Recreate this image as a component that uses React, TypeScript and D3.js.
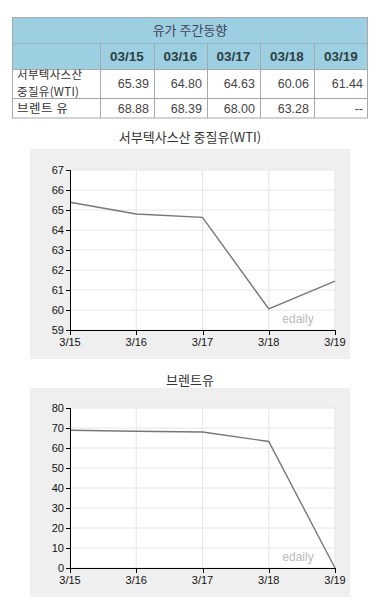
import React from "react";
import * as d3 from "d3";

const dates = ["03/15", "03/16", "03/17", "03/18", "03/19"];
const xLabels = ["3/15", "3/16", "3/17", "3/18", "3/19"];
const wtiValues = [65.39, 64.8, 64.63, 60.06, 61.44];
const brentValues: (number | null)[] = [68.88, 68.39, 68.0, 63.28, null];
const brentChartValues = [68.88, 68.39, 68.0, 63.28, 0];
const wtiTicks = [59, 60, 61, 62, 63, 64, 65, 66, 67];
const brentTicks = [0, 10, 20, 30, 40, 50, 60, 70, 80];

const FONT = "'Liberation Sans', Arial, sans-serif";
const KFONT = "'Noto Sans CJK KR', 'Noto Sans', sans-serif";

function LineChart({ title, titleY, bgTop, bgBottom, plotTop, plotBottom, domain, ticks, values }: any) {
  const x = d3.scalePoint<string>().domain(xLabels).range([70, 335]);
  const y = d3.scaleLinear().domain(domain).range([plotBottom, plotTop]);
  const line = d3
    .line<number>()
    .x((_, i) => x(xLabels[i]) as number)
    .y((d) => y(d));
  return (
    <g>
      <text x={190} y={titleY} textAnchor="middle" fontFamily={KFONT} fontSize={13} fill="#333">
        {title}
      </text>
      <rect x={30} y={bgTop} width={320} height={bgBottom - bgTop} fill="#efefef" />
      <rect x={70} y={plotTop} width={265} height={plotBottom - plotTop} fill="#ffffff" />
      {ticks.map((t: number) => (
        <line key={"g" + t} x1={70} x2={335} y1={y(t)} y2={y(t)} stroke="#e6e6e6" />
      ))}
      {xLabels.map((l) => (
        <line key={"v" + l} x1={x(l)} x2={x(l)} y1={plotTop} y2={plotBottom} stroke="#e6e6e6" />
      ))}
      <text x={298} y={plotBottom - 7} textAnchor="middle" fontFamily={FONT} fontSize={12} fill="#bbbbbb">
        edaily
      </text>
      <path d={line(values) || ""} fill="none" stroke="#777" strokeWidth={1.4} />
      <line x1={70.5} x2={70.5} y1={plotTop} y2={plotBottom} stroke="#000" />
      <line x1={70} x2={335} y1={plotBottom + 0.5} y2={plotBottom + 0.5} stroke="#000" />
      {ticks.map((t: number) => (
        <g key={"t" + t}>
          <line x1={66} x2={70} y1={Math.round(y(t)) + 0.5} y2={Math.round(y(t)) + 0.5} stroke="#000" />
          <text x={64} y={y(t) + 4} textAnchor="end" fontFamily={FONT} fontSize={11} fill="#111">
            {t}
          </text>
        </g>
      ))}
      {xLabels.map((l) => (
        <g key={"x" + l}>
          <line x1={Math.round(x(l) as number) + 0.5} x2={Math.round(x(l) as number) + 0.5} y1={plotBottom} y2={plotBottom + 5} stroke="#000" />
          <text x={x(l)} y={plotBottom + 16} textAnchor="middle" fontFamily={FONT} fontSize={11} fill="#111">
            {l}
          </text>
        </g>
      ))}
    </g>
  );
}

export default function App() {
  const colEdges = [12, 100, 154, 207, 260, 314, 368];
  const border = "#a8a8a8";
  return (
    <svg width={380} height={616} style={{ position: "absolute", left: 0, top: 0 }}>
      <rect width={380} height={616} fill="#fff" />
      {/* table */}
      <rect x={12} y={17} width={356} height={52} fill="#9dcfe3" />
      <line x1={12} x2={368} y1={43.5} y2={43.5} stroke="#8fb5c5" />
      {colEdges.slice(1, -1).map((cx) => (
        <line key={cx} x1={cx + 0.5} x2={cx + 0.5} y1={43} y2={118} stroke={border} />
      ))}
      <line x1={12} x2={368} y1={69.5} y2={69.5} stroke={border} />
      <line x1={12} x2={368} y1={98.5} y2={98.5} stroke={border} />
      <rect x={12.5} y={17.5} width={355} height={100.5} fill="none" stroke={border} />
      <text x={190} y={35} textAnchor="middle" fontFamily={KFONT} fontSize={13} fill="#445">
        유가 주간동향
      </text>
      {dates.map((d, i) => (
        <text key={d} x={(colEdges[i + 1] + colEdges[i + 2]) / 2} y={61} textAnchor="middle" fontFamily={FONT} fontSize={13.5} fontWeight="bold" fill="#2e4040">
          {d}
        </text>
      ))}
      <text x={17} y={78.5} fontFamily={KFONT} fontSize={11.5} fill="#333" letterSpacing={0.3}>서부텍사스산</text>
      <text x={17} y={95.5} fontFamily={KFONT} fontSize={11.5} fill="#333" letterSpacing={0.3}>중질유(WTI)</text>
      <text x={17} y={113} fontFamily={KFONT} fontSize={12.5} fill="#333" letterSpacing={0.5}>브렌트 유</text>
      {wtiValues.map((v, i) => (
        <text key={"w" + i} x={colEdges[i + 2] - 5} y={88} textAnchor="end" fontFamily={FONT} fontSize={12.5} fill="#444">
          {v.toFixed(2)}
        </text>
      ))}
      {brentValues.map((v, i) => (
        <text key={"b" + i} x={colEdges[i + 2] - 5} y={113} textAnchor="end" fontFamily={FONT} fontSize={12.5} fill="#444">
          {v == null ? "--" : v.toFixed(2)}
        </text>
      ))}
      <LineChart
        title="서부텍사스산 중질유(WTI)"
        titleY={142}
        bgTop={149}
        bgBottom={359}
        plotTop={170}
        plotBottom={330}
        domain={[59, 67]}
        ticks={wtiTicks}
        values={wtiValues}
      />
      <LineChart
        title="브렌트유"
        titleY={385}
        bgTop={388}
        bgBottom={597}
        plotTop={408}
        plotBottom={568}
        domain={[0, 80]}
        ticks={brentTicks}
        values={brentChartValues}
      />
    </svg>
  );
}
